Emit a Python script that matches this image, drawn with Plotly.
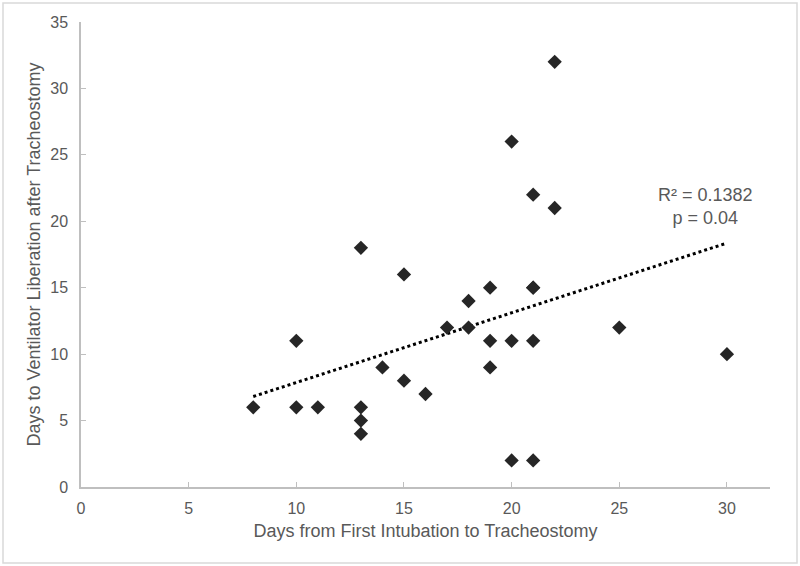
import numpy as np
import plotly.graph_objects as go

days_to_trach = [8, 10, 10, 11, 13, 13, 13, 13, 14, 15, 15, 16, 17, 18, 18,
                 19, 19, 19, 20, 20, 20, 21, 21, 21, 21, 21, 22, 22, 25, 30]
days_to_liberation = [6, 11, 6, 6, 18, 6, 5, 4, 9, 16, 8, 7, 12, 14, 12,
                      15, 11, 9, 26, 11, 2, 22, 15, 15, 11, 2, 32, 21, 12, 10]
x_ticks = [0, 5, 10, 15, 20, 25, 30]
y_ticks = [0, 5, 10, 15, 20, 25, 30, 35]
annotation_text = "R² = 0.1382<br>p = 0.04"

# linear trendline fitted from the data
slope, intercept = np.polyfit(days_to_trach, days_to_liberation, 1)
fit_x = [min(days_to_trach), max(days_to_trach)]
fit_y = [slope * v + intercept for v in fit_x]

W, H = 800, 566
ML, MR, MT, MB = 81, 30, 22, 79
PW, PH = W - ML - MR, H - MT - MB

FONT = "Liberation Sans, Arial, sans-serif"
GRAY_TXT = "#595959"
AXIS = "#bfbfbf"

fig = go.Figure()
fig.add_trace(go.Scatter(
    x=fit_x, y=fit_y, mode="lines",
    line=dict(color="black", width=3, dash="dot"),
    hoverinfo="skip", showlegend=False))
fig.add_trace(go.Scatter(
    x=days_to_trach, y=days_to_liberation, mode="markers",
    marker=dict(symbol="diamond", size=11, color="#262626",
                line=dict(width=0)),
    showlegend=False))

fig.add_annotation(
    x=29.0, y=21.1, xref="x", yref="y", text=annotation_text,
    showarrow=False, align="center",
    font=dict(family=FONT, size=18, color=GRAY_TXT))

# outer light-gray frame
fig.add_shape(
    type="rect", xref="paper", yref="paper",
    x0=(3 - ML) / PW, x1=(797 - ML) / PW,
    y0=1 - (563 - MT) / PH, y1=1 - (3 - MT) / PH,
    line=dict(color="#d9d9d9", width=1.5), layer="below")

fig.update_layout(
    width=W, height=H,
    margin=dict(l=ML, r=MR, t=MT, b=MB, autoexpand=False),
    paper_bgcolor="white", plot_bgcolor="white",
    font=dict(family=FONT, color=GRAY_TXT),
    xaxis=dict(
        range=[0, 32], tickvals=x_ticks, showgrid=False, zeroline=False,
        showline=True, linecolor=AXIS, linewidth=1.5, automargin=False,
        ticks="inside", ticklen=5, tickcolor=AXIS, ticklabelstandoff=6,
        tickfont=dict(size=16, color=GRAY_TXT),
        title=dict(text="Days from First Intubation to Tracheostomy",
                   font=dict(size=18, color=GRAY_TXT), standoff=8)),
    yaxis=dict(
        range=[0, 35], tickvals=y_ticks, showgrid=False, zeroline=False,
        showline=True, linecolor=AXIS, linewidth=1.5, automargin=False,
        ticks="inside", ticklen=5, tickcolor=AXIS, ticklabelstandoff=8,
        tickfont=dict(size=16, color=GRAY_TXT),
        title=dict(text="Days to Ventilator Liberation after Tracheostomy",
                   font=dict(size=18, color=GRAY_TXT), standoff=5)),
)

fig.write_html("out.html",
               config={"displayModeBar": False},
               post_script="document.body.style.margin='0';"
                           "document.body.style.overflow='hidden';")
